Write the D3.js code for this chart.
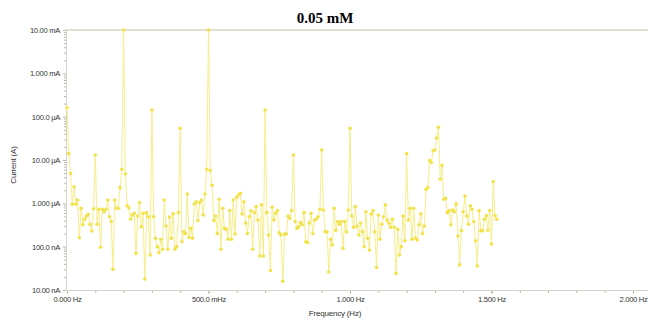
<!DOCTYPE html>
<html>
<head>
<meta charset="utf-8">
<script src="https://cdn.jsdelivr.net/npm/d3@7"></script>
<style>
  body { margin: 0; background: #fff; }
  svg text { font-family: "Liberation Sans", Arial, sans-serif; }
</style>
</head>
<body>
<svg id="chart" width="648" height="320"></svg>
<script>
// frequency grid step (Hz)
const freqStep = 0.00625;

// current magnitude in µA, one value per frequency bin starting at 0 Hz
const currentUA = [
  160, 14, 4.9, 0.95, 2.4, 0.95, 1.19, 0.16, 0.77, 0.32,
  0.43, 0.51, 0.56, 0.33, 0.23, 0.75, 13, 0.33, 0.73, 0.097,
  0.73, 0.64, 0.73, 1.19, 0.49, 0.38, 0.030, 1.19, 0.77, 0.77,
  2.3, 6.1, 10000, 4.8, 0.88, 0.79, 0.43, 0.54, 0.59, 0.070,
  0.51, 1.04, 0.29, 0.59, 0.018, 0.61, 0.49, 0.064, 143, 0.49,
  0.156, 0.10, 0.073, 0.148, 0.087, 1.19, 0.30, 0.087, 0.48, 0.156,
  0.57, 0.087, 0.10, 0.61, 54, 0.13, 0.22, 0.20, 1.64, 0.164,
  0.265, 0.156, 0.97, 1.09, 0.40, 1.04, 1.19, 0.54, 1.64, 6.1,
  10000, 5.7, 2.6, 0.40, 0.51, 0.20, 1.24, 0.087, 0.77, 0.265,
  0.25, 0.148, 0.68, 0.148, 1.19, 0.196, 1.37, 1.56, 1.7, 0.57,
  1.09, 0.35, 0.20, 0.49, 0.68, 0.087, 0.61, 0.84, 0.41, 0.061,
  0.92, 0.061, 143, 0.61, 0.186, 0.028, 0.81, 0.41, 0.59, 0.68,
  0.21, 0.186, 0.016, 0.196, 0.196, 0.51, 0.45, 0.68, 13, 0.38,
  0.265, 0.29, 0.36, 0.32, 0.61, 0.13, 0.124, 0.35, 0.59, 0.20,
  0.41, 0.43, 0.49, 0.73, 17, 0.70, 0.22, 0.22, 0.026, 0.148,
  0.109, 0.77, 0.24, 0.38, 0.33, 0.38, 0.092, 0.38, 0.22, 0.70,
  54, 0.51, 0.28, 0.84, 0.30, 0.186, 0.35, 0.22, 0.10, 0.64,
  0.156, 0.084, 0.57, 0.68, 0.22, 0.033, 0.54, 0.148, 0.33, 0.49,
  0.92, 0.41, 0.35, 0.28, 0.43, 0.28, 0.024, 0.25, 0.064, 0.10,
  0.51, 0.137, 14, 0.41, 0.77, 0.148, 0.77, 0.156, 0.143, 0.32,
  0.57, 0.20, 0.30, 2.1, 2.3, 9.7, 8.7, 16.4, 17, 32,
  57, 3.6, 7.5, 1.24, 1.3, 0.61, 0.67, 0.32, 0.70, 0.64,
  0.97, 0.176, 0.038, 0.234, 0.64, 1.48, 0.51, 0.33, 0.88, 0.73,
  0.38, 0.137, 0.036, 0.68, 0.234, 0.234, 0.43, 0.52, 0.24, 0.68,
  0.115, 3.2, 0.52, 0.43
];

const xTicks = [0, 0.5, 1, 1.5, 2];
const xTickLabels = ["0.000 Hz", "500.0 mHz", "1.000 Hz", "1.500 Hz", "2.000 Hz"];
const yTicks = [0.01, 0.1, 1, 10, 100, 1000, 10000];
const yTickLabels = ["10.00 nA", "100.0 nA", "1.000 µA", "10.00 µA", "100.0 µA", "1.000 mA", "10.00 mA"];

const data = currentUA.map((v, i) => ({ f: i * freqStep, v: v }));

const svg = d3.select("#chart");
const plotLeft = 67, plotRight = 633, plotTop = 30, plotBottom = 290;

const x = d3.scaleLinear().domain([0, 2]).range([plotLeft, plotRight]);
const y = d3.scaleLog().domain([0.01, 10000]).range([plotBottom, plotTop]);

const axisColor = "#d6d6c8";
const tickColor = "#b8b8b0";

// title
svg.append("text")
  .attr("x", 325).attr("y", 23)
  .attr("text-anchor", "middle")
  .style("font-family", "'Liberation Serif', 'Times New Roman', serif")
  .style("font-weight", "bold")
  .style("font-size", "15px")
  .text("0.05 mM");

// minor ticks on x
const xMinor = d3.range(0, 21).map(d => d / 10);
svg.append("g")
  .attr("transform", "translate(0," + plotBottom + ")")
  .call(d3.axisBottom(x).tickValues(xMinor).tickSize(3).tickFormat(""))
  .call(g => g.select(".domain").remove())
  .call(g => g.selectAll("line").attr("stroke", tickColor));

// major x axis
svg.append("g")
  .attr("transform", "translate(0," + plotBottom + ")")
  .call(d3.axisBottom(x).tickValues(xTicks).tickSize(4).tickPadding(3)
    .tickFormat((d, i) => xTickLabels[i]))
  .call(g => g.select(".domain").remove())
  .call(g => g.selectAll("line").attr("stroke", tickColor))
  .call(g => g.selectAll("text").attr("fill", "#333")
    .style("font-size", "7.6px").style("letter-spacing", "-0.3px"));

// minor ticks on y
const yMinor = [];
for (let e = -2; e < 4; e++) {
  for (let m = 2; m < 10; m++) yMinor.push(m * Math.pow(10, e));
}
svg.append("g")
  .attr("transform", "translate(" + (plotLeft - 1) + ",0)")
  .call(d3.axisLeft(y).tickValues(yMinor).tickSize(2).tickFormat(""))
  .call(g => g.select(".domain").remove())
  .call(g => g.selectAll("line").attr("stroke", tickColor));

// major y axis
svg.append("g")
  .attr("transform", "translate(" + (plotLeft - 1) + ",0)")
  .call(d3.axisLeft(y).tickValues(yTicks).tickSize(3).tickPadding(3)
    .tickFormat((d, i) => yTickLabels[i]))
  .call(g => g.select(".domain").remove())
  .call(g => g.selectAll("line").attr("stroke", tickColor))
  .call(g => g.selectAll("text").attr("fill", "#333")
    .style("font-size", "7.6px").style("letter-spacing", "-0.3px"));

// frame lines
svg.append("line").attr("x1", plotLeft - 1).attr("x2", 648).attr("y1", plotTop).attr("y2", plotTop)
  .attr("stroke", axisColor).attr("stroke-width", 1.5);
svg.append("line").attr("x1", plotLeft - 1).attr("x2", 648).attr("y1", plotBottom + 0.5).attr("y2", plotBottom + 0.5)
  .attr("stroke", axisColor);
svg.append("line").attr("x1", plotLeft - 0.5).attr("x2", plotLeft - 0.5).attr("y1", plotTop).attr("y2", plotBottom)
  .attr("stroke", axisColor);

// axis titles
svg.append("text")
  .attr("x", 335).attr("y", 316)
  .attr("text-anchor", "middle")
  .attr("fill", "#333")
  .style("font-size", "8px")
  .style("letter-spacing", "-0.2px")
  .text("Frequency (Hz)");

svg.append("text")
  .attr("transform", "translate(16,165) rotate(-90)")
  .attr("text-anchor", "middle")
  .attr("fill", "#333")
  .style("font-size", "8px")
  .style("letter-spacing", "-0.2px")
  .text("Current (A)");

// series
const line = d3.line()
  .x(d => x(d.f))
  .y(d => y(d.v));

svg.append("path")
  .datum(data)
  .attr("fill", "none")
  .attr("stroke", "#f6ee8c")
  .attr("stroke-width", 1)
  .attr("d", line);

svg.append("g")
  .selectAll("circle")
  .data(data)
  .enter().append("circle")
  .attr("cx", d => x(d.f))
  .attr("cy", d => y(d.v))
  .attr("r", 1.8)
  .attr("fill", "#f2e34c");
</script>
</body>
</html>
